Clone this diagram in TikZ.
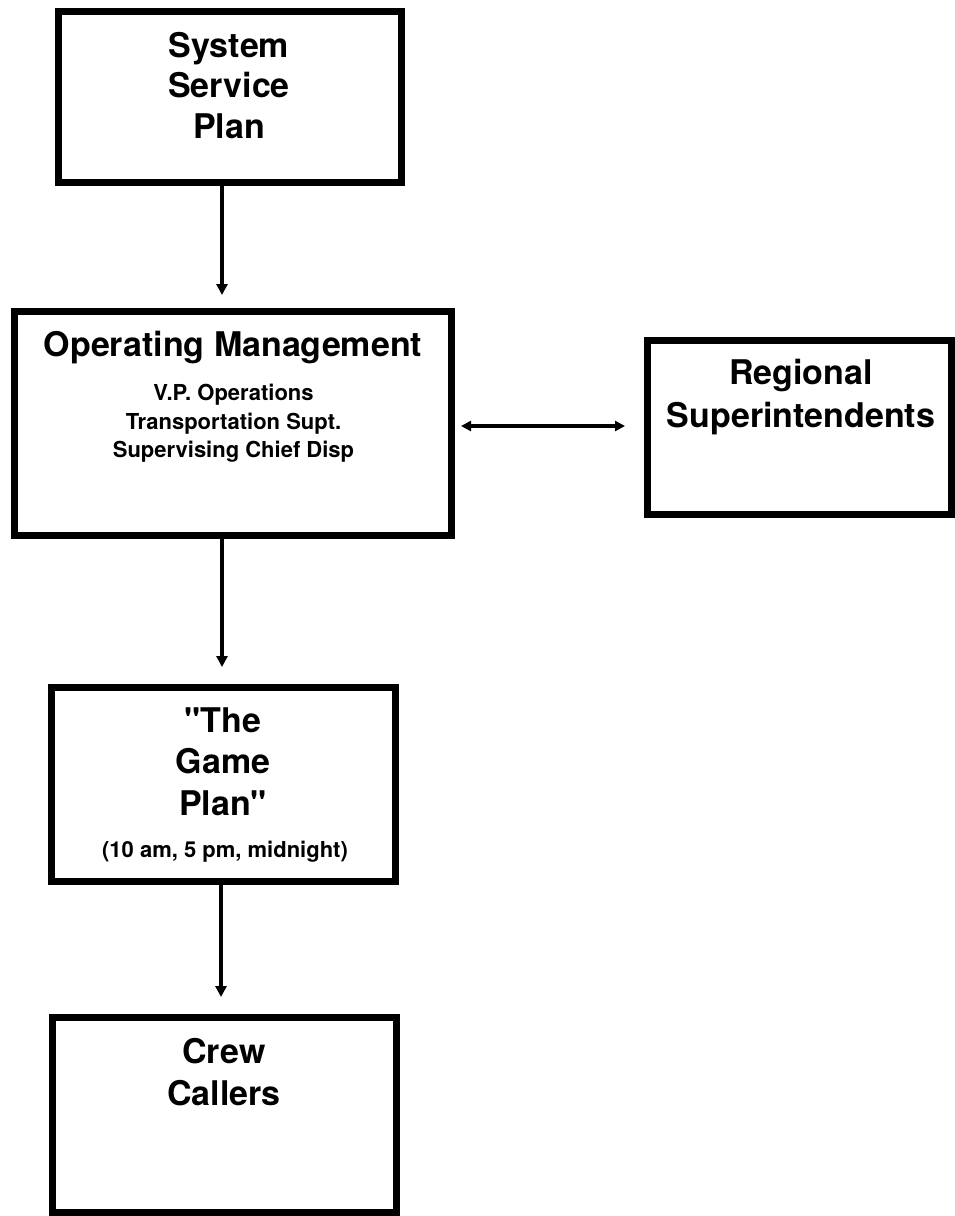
\documentclass[tikz,border=0pt]{standalone}
\usepackage{fontspec}
% plain typewriter-style double quotes are wanted, so no TeX ligature mapping
\setmainfont{TeX Gyre Heros}[Ligatures=TeXOff]
\usetikzlibrary{arrows.meta}

\begin{document}
\begin{tikzpicture}[x=1pt,y=-1pt,
  box/.style={draw, line width=7pt, inner sep=0pt, fill=white},
  title/.style={font=\fontsize{34}{40}\selectfont\bfseries, anchor=base, inner sep=0pt},
  sub/.style={font=\fontsize{22}{27}\selectfont\bfseries, anchor=base, inner sep=0pt},
  flow/.style={line width=3.6pt, -{Triangle[length=11pt,width=11pt]}},
  both/.style={line width=3.4pt, {Triangle[length=10pt,width=10pt]}-{Triangle[length=10pt,width=10pt]}}
]
\useasboundingbox (0,0) rectangle (955,1216);

% boxes
\node[box, minimum width=343pt, minimum height=171pt] (ssp) at (230,97) {};
\node[box, minimum width=437pt, minimum height=224pt] (om) at (233,423.5) {};
\node[box, minimum width=304pt, minimum height=174pt] (rs) at (799.5,427.5) {};
\node[box, minimum width=344.5pt, minimum height=194pt] (gp) at (223.25,784.5) {};
\node[box, minimum width=344pt, minimum height=195pt] (cc) at (224.5,1115) {};

% box texts
\node[title] (ssp1) at (229,57) {System};
\node[title] (ssp2) at (229,97.5) {Service};
\node[title] (ssp3) at (229,138) {Plan};

\node[title] (om1) at (233,356) {Operating Management};
\node[sub] (om2) at (233.5,400) {V.P. Operations};
\node[sub] (om3) at (233.5,429) {Transportation Supt.};
\node[sub] (om4) at (233.5,457.5) {Supervising Chief Disp};

\node[title] (rs1) at (801,384) {Regional};
\node[title] (rs2) at (801,427) {Superintendents};

\node[title] (gp1) at (223,732) {"The};
\node[title] (gp2) at (223,773) {Game};
\node[title] (gp3) at (223,815) {Plan"};
\node[sub] (gp4) at (225,857) {(10 am, 5 pm, midnight)};

\node[title] (cc1) at (224,1063) {Crew};
\node[title] (cc2) at (224,1105) {Callers};

% arrow tips stop short of the boxes
\coordinate (t1) at (222,295);
\coordinate (t2) at (222,667);
\coordinate (t3) at (221,997);
\coordinate (hl) at (461,426);
\coordinate (hr) at (625,426);

% connectors
\draw[flow] (ssp.south -| t1) -- (t1);
\draw[flow] (om.south -| t2) -- (t2);
\draw[flow] (gp.south -| t3) -- (t3);
\draw[both] (hl) -- (hr);
\end{tikzpicture}
\end{document}
